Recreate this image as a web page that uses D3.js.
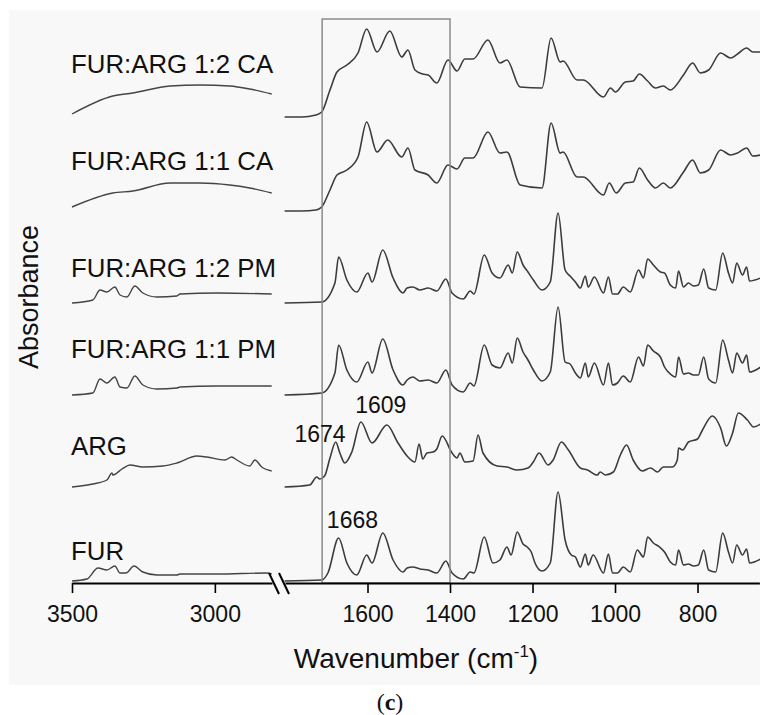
<!DOCTYPE html>
<html>
<head>
<meta charset="utf-8">
<script src="https://cdn.jsdelivr.net/npm/d3@7"></script>
<style>
  body { margin: 0; background: #fff; }
  text { font-family: "Liberation Sans", Arial, sans-serif; fill: #111; }
</style>
</head>
<body>
<div id="chart"></div>
<script>
// stacked spectra, top to bottom
var names = ["FUR:ARG 1:2 CA", "FUR:ARG 1:1 CA", "FUR:ARG 1:2 PM", "FUR:ARG 1:1 PM", "ARG", "FUR"];
var offsets = [466, 372, 280, 188, 96, 2];

// high wavenumber part (3500-2800) : [cm-1, absorbance a.u.]
var ca12High = [[3500, 3], [3357, 21], [3287, 24], [3157, 31], [3052, 32], [2948, 31], [2878, 28], [2801, 23]];
var ca11High = [[3500, 4], [3357, 18], [3287, 20], [3157, 28], [3052, 28], [2948, 26], [2878, 23], [2801, 18]];
var pm12High = [[3500, 0], [3427, 3], [3402, 13], [3378, 11], [3350, 16], [3332, 8], [3308, 6], [3280, 17], [3252, 10],
                [3203, 6], [3133, 7], [3122, 9], [2993, 10], [2801, 9]];
var pm11High = [[3500, 0], [3427, 2], [3402, 16], [3378, 12], [3350, 18], [3332, 8], [3308, 7], [3280, 19], [3252, 10],
                [3203, 6], [3133, 7], [3122, 8], [2993, 9], [2801, 9]];
var argHigh = [[3500, 0], [3427, 3], [3378, 7], [3360, 14], [3357, 12], [3325, 18], [3297, 22], [3252, 20], [3182, 21],
               [3133, 24], [3063, 31], [3028, 30], [2965, 27], [2941, 30], [2923, 27], [2878, 21], [2860, 27],
               [2836, 20], [2801, 16]];
var furHigh = [[3500, 0], [3448, 2], [3409, 13], [3378, 11], [3350, 15], [3332, 8], [3311, 8], [3283, 15], [3252, 9],
               [3203, 6], [3133, 6], [3122, 7], [2993, 7], [2818, 8], [2801, 7]];

// fingerprint part (1800-650)
var ca12Low = [[1801, 0], [1760, 0], [1725, 2], [1711, 5], [1691, 27], [1674, 45], [1650, 52], [1623, 64], [1602, 88],
               [1577, 65], [1546, 86], [1517, 60], [1502, 67], [1485, 47], [1466, 43], [1453, 42], [1432, 34],
               [1405, 57], [1383, 46], [1364, 58], [1344, 58], [1308, 77], [1279, 54], [1262, 57], [1230, 30],
               [1177, 29], [1155, 79], [1133, 55], [1126, 56], [1092, 37], [1077, 37], [1028, 20], [1011, 29],
               [999, 25], [975, 35], [956, 36], [941, 43], [921, 36], [902, 29], [883, 31], [866, 27], [834, 42],
               [812, 54], [793, 44], [773, 47], [744, 64], [720, 59], [703, 63], [681, 69], [666, 65], [647, 65]];
var ca11Low = [[1801, 0], [1760, 0], [1725, 1], [1711, 4], [1691, 21], [1674, 36], [1650, 41], [1623, 54], [1602, 89],
               [1577, 59], [1551, 71], [1517, 54], [1502, 63], [1485, 41], [1453, 36], [1432, 28], [1405, 46],
               [1383, 42], [1364, 53], [1344, 53], [1308, 79], [1279, 58], [1262, 59], [1230, 26], [1177, 23],
               [1155, 88], [1133, 58], [1126, 59], [1092, 34], [1077, 34], [1028, 16], [1014, 28], [997, 18],
               [975, 28], [956, 29], [941, 43], [921, 31], [902, 23], [883, 28], [866, 23], [834, 39], [812, 51],
               [793, 38], [773, 41], [744, 61], [720, 56], [703, 58], [681, 63], [666, 55], [647, 56]];
var pm12Low = [[1801, 0], [1711, 1], [1679, 20], [1670, 46], [1650, 23], [1626, 11], [1599, 30], [1589, 21], [1563, 53],
               [1538, 25], [1514, 10], [1504, 15], [1490, 16], [1473, 13], [1453, 15], [1432, 12], [1410, 24],
               [1395, 10], [1368, 4], [1351, 12], [1342, 9], [1317, 48], [1298, 30], [1279, 25], [1259, 38],
               [1249, 30], [1237, 51], [1223, 38], [1211, 31], [1198, 23], [1177, 13], [1157, 21], [1138, 90],
               [1121, 33], [1109, 27], [1096, 21], [1084, 15], [1072, 27], [1065, 16], [1050, 26], [1028, 10],
               [1016, 26], [1006, 9], [994, 9], [980, 16], [963, 11], [943, 33], [931, 25], [921, 44], [907, 38],
               [890, 31], [880, 30], [866, 18], [853, 15], [846, 32], [834, 16], [822, 20], [810, 17], [798, 18],
               [785, 34], [773, 15], [756, 13], [739, 50], [725, 30], [715, 20], [705, 40], [691, 28], [681, 36],
               [674, 22], [647, 25]];
var pm11Low = [[1801, 0], [1711, 2], [1679, 22], [1670, 50], [1650, 25], [1626, 13], [1599, 33], [1589, 22], [1563, 56],
               [1538, 25], [1514, 10], [1504, 15], [1490, 18], [1473, 14], [1453, 15], [1432, 12], [1410, 25],
               [1395, 10], [1368, 3], [1351, 12], [1342, 9], [1317, 50], [1298, 30], [1279, 27], [1259, 42],
               [1249, 32], [1237, 57], [1223, 43], [1211, 35], [1198, 25], [1177, 14], [1157, 23], [1138, 88],
               [1121, 33], [1109, 31], [1096, 22], [1084, 17], [1072, 32], [1065, 18], [1050, 32], [1028, 10],
               [1016, 32], [1006, 10], [994, 12], [980, 19], [963, 13], [943, 38], [931, 29], [921, 50], [907, 44],
               [890, 38], [880, 28], [866, 21], [853, 18], [846, 38], [834, 21], [822, 22], [810, 20], [798, 20],
               [785, 38], [773, 16], [756, 12], [739, 55], [725, 35], [715, 22], [705, 42], [691, 32], [681, 40],
               [674, 23], [647, 28]];
var argLow = [[1801, 0], [1740, 2], [1723, 10], [1716, 8], [1704, 11], [1691, 29], [1677, 45], [1667, 34], [1655, 24],
              [1638, 35], [1616, 65], [1589, 44], [1553, 62], [1526, 44], [1504, 31], [1485, 25], [1475, 43],
              [1466, 28], [1456, 34], [1441, 35], [1432, 38], [1419, 51], [1395, 34], [1383, 29], [1376, 34],
              [1364, 25], [1344, 26], [1332, 52], [1320, 34], [1286, 21], [1262, 20], [1237, 17], [1211, 19],
              [1198, 25], [1184, 34], [1162, 22], [1150, 27], [1130, 45], [1113, 37], [1084, 19], [1067, 17],
              [1043, 12], [1036, 15], [1023, 12], [1004, 15], [987, 32], [972, 42], [956, 27], [934, 16], [914, 19],
              [897, 15], [883, 20], [861, 20], [849, 27], [846, 39], [836, 37], [822, 45], [800, 48], [788, 57],
              [764, 71], [744, 59], [730, 41], [715, 54], [701, 74], [679, 67], [664, 60], [647, 63]];
var furLow = [[1801, 0], [1711, 1], [1696, 8], [1670, 43], [1650, 18], [1626, 6], [1602, 26], [1589, 18], [1563, 48],
              [1538, 21], [1514, 9], [1504, 13], [1490, 14], [1473, 12], [1453, 11], [1432, 8], [1410, 20],
              [1395, 8], [1368, 2], [1351, 9], [1342, 8], [1317, 44], [1296, 18], [1279, 21], [1262, 34], [1252, 26],
              [1237, 49], [1223, 37], [1213, 34], [1203, 29], [1194, 18], [1177, 10], [1157, 18], [1138, 89],
              [1121, 41], [1106, 26], [1096, 24], [1084, 14], [1072, 27], [1065, 16], [1053, 26], [1028, 8],
              [1016, 27], [1006, 8], [994, 8], [980, 14], [963, 9], [946, 31], [931, 24], [921, 44], [907, 38],
              [892, 34], [880, 29], [866, 19], [853, 16], [846, 31], [834, 16], [822, 17], [810, 15], [798, 16],
              [785, 31], [773, 11], [756, 9], [739, 48], [725, 29], [715, 18], [705, 36], [691, 26], [681, 32],
              [674, 18], [647, 22]];

var highSets = [ca12High, ca11High, pm12High, pm11High, argHigh, furHigh];
var lowSets = [ca12Low, ca11Low, pm12Low, pm11Low, argLow, furLow];

var highTicks = [3500, 3000];
var highMinor = [3250];
var lowTicks = [1600, 1400, 1200, 1000, 800];
var lowMinor = [1700, 1500, 1300, 1100, 900, 700];

var peakText = ["1674", "1609", "1668"];
var peakWn = [1674, 1609, 1668];
var peakSeries = [4, 4, 5];
var boxRange = [1710, 1400];

function init() {
    var w = 760;
    var h = 715;
    var axisY = 583;

    var svg = d3.select("#chart")
                .append("svg")
                .attr("width", w)
                .attr("height", h);

    // grey panel behind the plot
    svg.append("rect")
       .attr("x", 9).attr("y", 10)
       .attr("width", w - 9).attr("height", 675)
       .attr("fill", "#f8f8f8");

    var xHigh = d3.scaleLinear().domain([3500, 2800]).range([72, 272]);
    var xLow = d3.scaleLinear().domain([1800, 650]).range([285, 759.4]);
    var yScale = d3.scaleLinear().domain([0, 573]).range([axisY, 10]);

    // spectra
    names.forEach(function(name, i) {
        var lineHigh = d3.line()
            .x(function(d) { return xHigh(d[0]); })
            .y(function(d) { return yScale(d[1] + offsets[i]); })
            .curve(d3.curveMonotoneX);
        var lineLow = d3.line()
            .x(function(d) { return xLow(d[0]); })
            .y(function(d) { return yScale(d[1] + offsets[i]); })
            .curve(d3.curveMonotoneX);

        svg.append("path")
           .attr("d", lineHigh(highSets[i]))
           .attr("fill", "none")
           .attr("stroke", "#444")
           .attr("stroke-width", 1.4);
        svg.append("path")
           .attr("d", lineLow(lowSets[i]))
           .attr("fill", "none")
           .attr("stroke", "#3c3c3c")
           .attr("stroke-width", 1.6);
    });

    // spectrum names
    var labelLift = [44, 41, 26, 37, 32, 21];
    svg.selectAll("text.name")
       .data(names)
       .enter()
       .append("text")
       .attr("class", "name")
       .attr("x", 71)
       .attr("y", function(d, i) { return yScale(offsets[i]) - labelLift[i]; })
       .attr("font-size", 25.8)
       .text(function(d) { return d; });

    // highlighted region
    svg.append("rect")
       .attr("x", xLow(boxRange[0]))
       .attr("y", 19)
       .attr("width", xLow(boxRange[1]) - xLow(boxRange[0]))
       .attr("height", axisY - 19)
       .attr("fill", "none")
       .attr("stroke", "#8a8a8a")
       .attr("stroke-width", 1.5);

    // peak annotations
    var peakDx = [-17, 17, 13];
    var peakLift = [45, 74, 53];
    svg.selectAll("text.peak")
       .data(peakText)
       .enter()
       .append("text")
       .attr("class", "peak")
       .attr("text-anchor", "middle")
       .attr("font-size", 23)
       .attr("x", function(d, i) { return xLow(peakWn[i]) + peakDx[i]; })
       .attr("y", function(d, i) { return yScale(offsets[peakSeries[i]]) - peakLift[i]; })
       .text(function(d) { return d; });

    // axes
    function addAxis(scale, ticks, minor) {
        var g = svg.append("g").attr("transform", "translate(0," + axisY + ")");
        g.call(d3.axisBottom(scale).tickValues(minor).tickSize(6).tickSizeOuter(0).tickFormat(""));
        g.call(d3.axisBottom(scale).tickValues(ticks).tickSize(10).tickSizeOuter(0).tickPadding(13)
                 .tickFormat(d3.format("d")));
        g.selectAll("path.domain").attr("stroke", "#000").attr("stroke-width", 2);
        g.selectAll(".tick line").attr("stroke", "#000").attr("stroke-width", 1.6);
        g.selectAll("text")
         .attr("font-size", 23)
         .attr("font-family", "Liberation Sans, Arial, sans-serif")
         .attr("fill", "#111");
    }
    addAxis(xHigh, highTicks, highMinor);
    addAxis(xLow, lowTicks, lowMinor);

    // axis break marks
    [269, 279].forEach(function(bx) {
        svg.append("line")
           .attr("x1", bx).attr("y1", axisY - 10)
           .attr("x2", bx + 10).attr("y2", axisY + 11)
           .attr("stroke", "#000")
           .attr("stroke-width", 2);
    });

    // axis titles
    var xt = svg.append("text")
                .attr("x", 416)
                .attr("y", 668)
                .attr("text-anchor", "middle")
                .attr("font-size", 28);
    xt.append("tspan").text("Wavenumber (cm");
    xt.append("tspan").attr("font-size", 17).attr("dy", -11).text("-1");
    xt.append("tspan").attr("dy", 11).text(")");

    svg.append("text")
       .attr("transform", "translate(38,297) rotate(-90)")
       .attr("text-anchor", "middle")
       .attr("font-size", 27)
       .text("Absorbance");

    var cap = svg.append("text")
                 .attr("x", 390)
                 .attr("y", 710)
                 .attr("text-anchor", "middle")
                 .attr("font-size", 24)
                 .style("font-family", "Liberation Serif, Times New Roman, serif");
    cap.append("tspan").text("(");
    cap.append("tspan").attr("font-weight", "bold").text("c");
    cap.append("tspan").text(")");
}

window.onload = init;
</script>
</body>
</html>
